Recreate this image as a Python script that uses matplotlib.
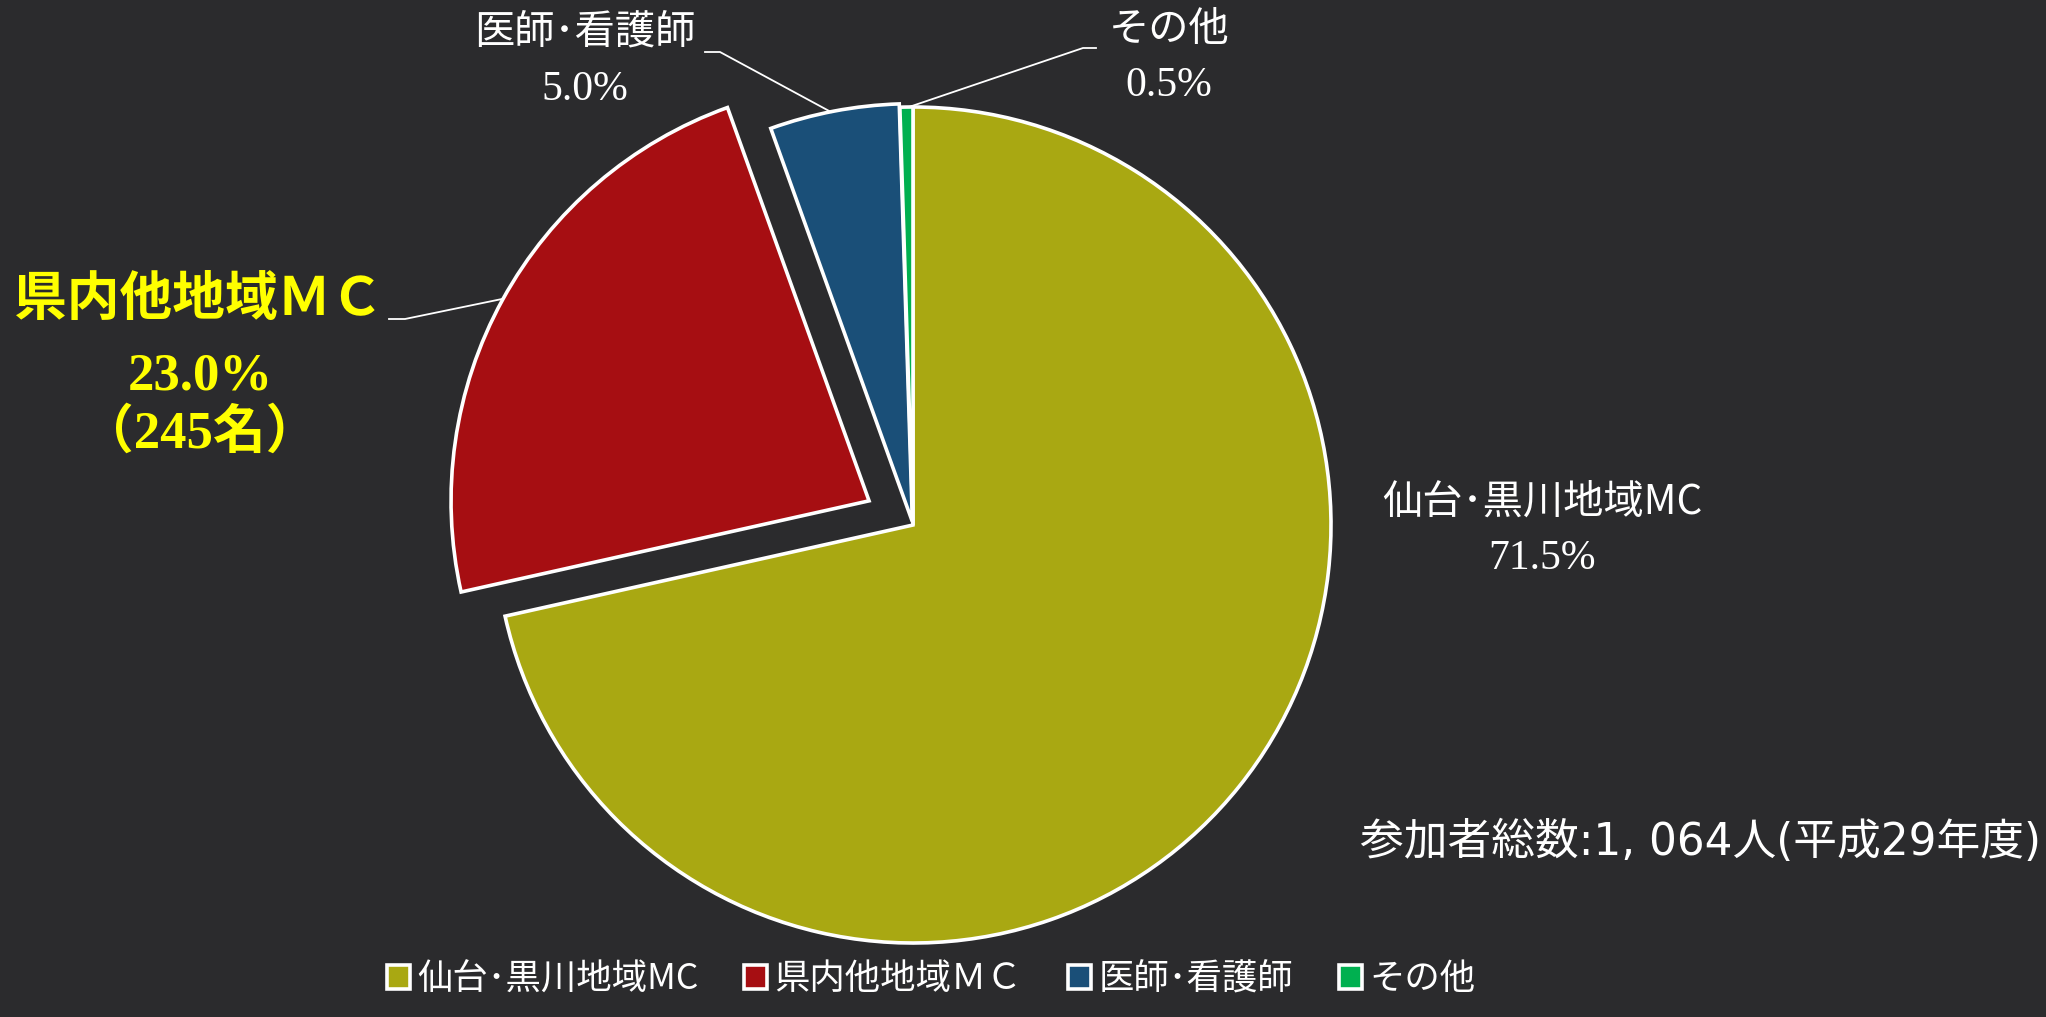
import matplotlib
matplotlib.use('Agg')
import matplotlib.pyplot as plt

# data
labels = ['仙台･黒川地域MC', '県内他地域ＭＣ', '医師･看護師', 'その他']
shares = [71.5, 23.0, 5.0, 0.5]
colors = ['#A9A812', '#A60E12', '#1A4F78', '#00B050']
explode = [0.0, 0.12, 0.008, 0.0]   # fraction of radius
red_count = 245
total_note = '参加者総数:1, 064人(平成29年度)'

W, H = 2046, 1017
bg = '#2B2B2D'
jp = ['Noto Sans CJK JP', 'DejaVu Sans']
serif_jp = ['Liberation Serif', 'Noto Sans CJK JP']
R = 418

fig = plt.figure(figsize=(W / 100, H / 100), dpi=100, facecolor=bg)
ax = fig.add_axes([0, 0, 1, 1])
ax.set_facecolor(bg)
ax.axis('off')

def Y(y):
    # picture rows count from the top
    return H - y

# pie explode is in data units, not radius fractions
wedges, _ = ax.pie(shares, colors=colors, explode=[e * R for e in explode],
                   startangle=90, counterclock=False, center=(913, Y(525)),
                   radius=R, wedgeprops=dict(edgecolor='white', linewidth=2.6))
ax.set_xlim(0, W)
ax.set_ylim(0, H)
ax.set_aspect('equal')

# leader lines
line_kw = dict(color='white', lw=1.3)
ax.plot([389, 405, 502], [Y(319), Y(319), Y(299)], **line_kw)
ax.plot([705, 720, 831], [Y(52), Y(52), Y(112)], **line_kw)
ax.plot([1096, 1083, 909], [Y(48), Y(48), Y(107)], **line_kw)

# highlighted label
ax.text(199, Y(300), labels[1], color='#FFFF00', fontsize=38, fontweight='bold',
        family=jp, ha='center', va='center')
ax.text(200, Y(377), f'{shares[1]:.1f}%', color='#FFFF00', fontsize=38,
        fontweight='bold', family=serif_jp, ha='center', va='center')
ax.text(200, Y(433), f'（{red_count}名）', color='#FFFF00', fontsize=38,
        fontweight='bold', family=serif_jp, ha='center', va='center')

# other labels
for name, val, x, y in [(labels[2], shares[2], 585, 33),
                        (labels[3], shares[3], 1169, 29),
                        (labels[0], shares[0], 1542, 502)]:
    ax.text(x, Y(y), name, color='white', fontsize=29, family=jp,
            ha='center', va='center')
    ax.text(x, Y(y + 57), f'{val:.1f}%', color='white', fontsize=30,
            family=serif_jp, ha='center', va='center')

ax.text(1360, Y(842), total_note, color='white', fontsize=31.5,
        family=['DejaVu Sans', 'Noto Sans CJK JP'], ha='left', va='center')

leg = ax.legend(wedges, labels, loc='lower center', bbox_to_anchor=(0.455, -0.012),
                ncol=4, frameon=False, prop={'family': jp, 'size': 25.5},
                labelcolor='white', handlelength=0.65, handleheight=0.65,
                handletextpad=0.2, columnspacing=1.3)

fig.savefig('out.png', dpi=100, facecolor=bg)
